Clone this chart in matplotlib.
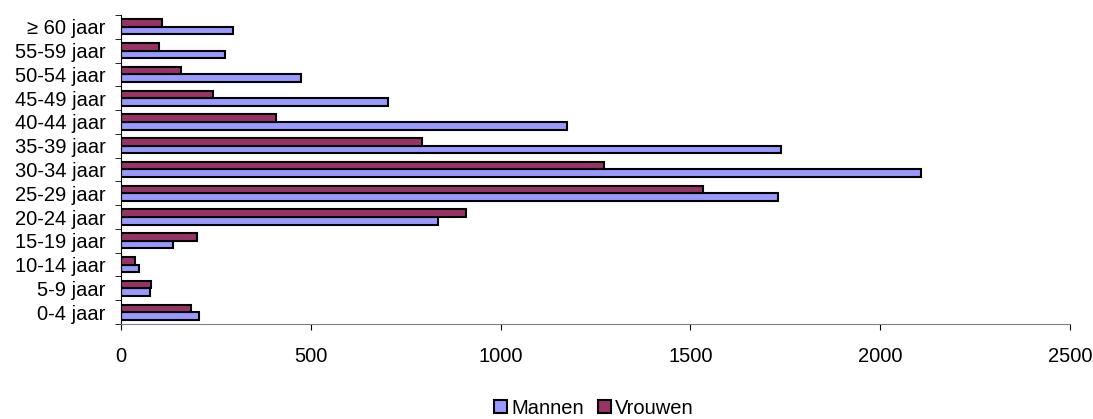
import matplotlib
matplotlib.use("Agg")
import matplotlib.pyplot as plt
import numpy as np

plt.rcParams['font.family'] = ['Liberation Sans', 'DejaVu Sans']

categories = ["0-4 jaar", "5-9 jaar", "10-14 jaar", "15-19 jaar", "20-24 jaar",
              "25-29 jaar", "30-34 jaar", "35-39 jaar", "40-44 jaar", "45-49 jaar",
              "50-54 jaar", "55-59 jaar", "≥ 60 jaar"]
mannen = [205, 76, 47, 137, 836, 1731, 2107, 1738, 1175, 703, 474, 274, 295]
vrouwen = [184, 79, 36, 200, 910, 1533, 1272, 793, 408, 242, 158, 99, 108]
xticks = [0, 500, 1000, 1500, 2000, 2500]

fs = 14.5
fig = plt.figure(figsize=(10.93, 4.19), dpi=100)
ax = fig.add_axes([121/1093, 1-324/419, (1070-121)/1093, (324-15)/419])

y = np.arange(len(categories))
h = 0.32
ax.barh(y - h/2, mannen, height=h, color='#9999FF', edgecolor='black', linewidth=1.5, label='Mannen')
ax.barh(y + h/2, vrouwen, height=h, color='#993366', edgecolor='black', linewidth=1.5, label='Vrouwen')

ax.set_xlim(0, 2500)
ax.set_ylim(-0.5, len(categories) - 0.5)
ax.set_xticks(xticks)
ax.set_xticklabels([str(v) for v in xticks], fontsize=fs)
ax.set_yticks(y)
ax.set_yticklabels(categories, fontsize=fs)
ax.set_yticks(np.arange(len(categories) + 1) - 0.5, minor=True)
ax.tick_params(axis='y', which='major', length=0, pad=11)
ax.tick_params(axis='y', which='minor', length=4, direction='out', color='black')
ax.tick_params(axis='x', which='major', length=4.5, direction='out', pad=12, color='black')

for s in ['top', 'right']:
    ax.spines[s].set_visible(False)
ax.spines['left'].set_color('black')
ax.spines['bottom'].set_color('#808080')

fig.legend(loc='center', bbox_to_anchor=(594/1093, 1 - 408/419), ncol=2, frameon=False,
           fontsize=fs, handlelength=0.65, handleheight=0.65, handletextpad=0.2,
           columnspacing=0.7, borderpad=0.1)

fig.savefig('out.png', dpi=100)
